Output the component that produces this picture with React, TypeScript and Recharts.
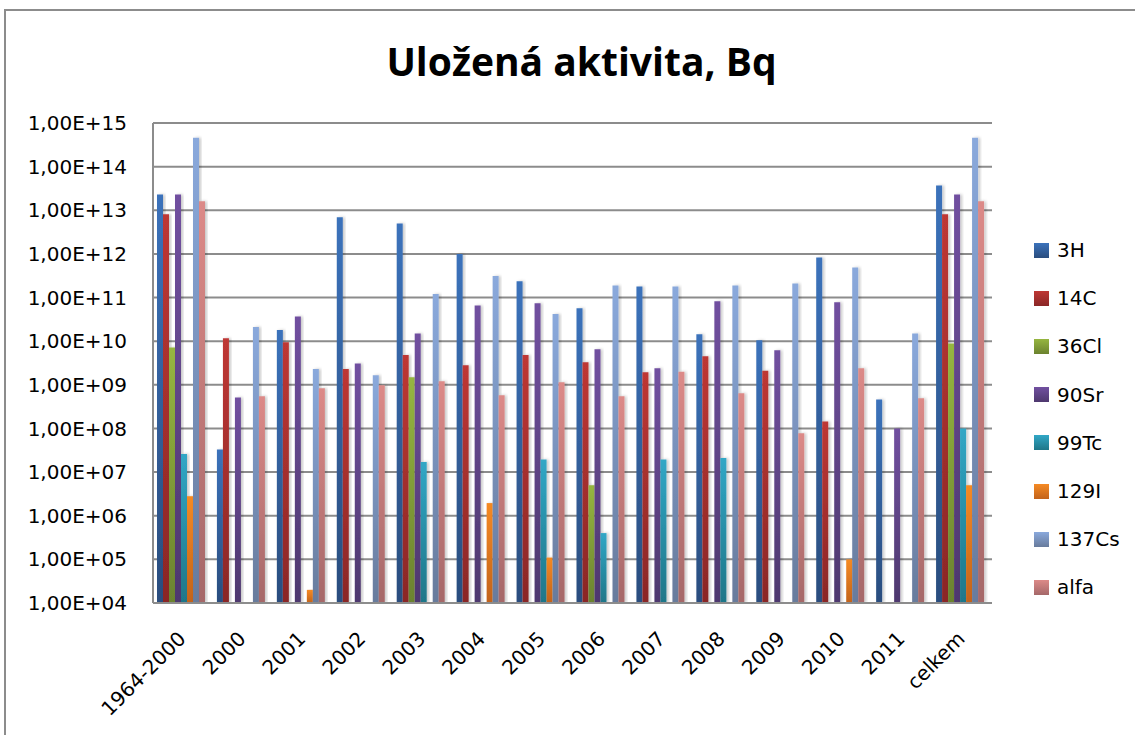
import { BarChart, Bar, XAxis, YAxis, CartesianGrid } from "recharts"

const categories = [
  "1964-2000", "2000", "2001", "2002", "2003", "2004", "2005",
  "2006", "2007", "2008", "2009", "2010", "2011", "celkem",
]

// Bq; null = no bar
const h3 = [2.3e13, 3.3e7, 1.8e10, 6.9e12, 5.0e12, 1.0e12, 2.35e11, 5.7e10, 1.8e11, 1.45e10, 1.05e10, 8.3e11, 4.6e8, 3.7e13]
const c14 = [8.1e12, 1.17e10, 9.5e9, 2.3e9, 4.8e9, 2.8e9, 4.8e9, 3.3e9, 1.95e9, 4.5e9, 2.1e9, 1.45e8, null, 8.1e12]
const cl36 = [7.2e9, null, null, null, 1.5e9, null, null, 5e6, null, null, null, null, null, 8.9e9]
const sr90 = [2.3e13, 5.1e8, 3.7e10, 3.1e9, 1.5e10, 6.6e10, 7.4e10, 6.5e9, 2.4e9, 8.2e10, 6.2e9, 7.8e10, 1.0e8, 2.3e13]
const tc99 = [2.6e7, null, null, null, 1.7e7, null, 1.95e7, 4e5, 1.95e7, 2.1e7, null, null, null, 1.0e8]
const i129 = [2.8e6, null, 2e4, null, 8e3, 1.95e6, 1.1e5, null, null, 8e3, null, 1.0e5, null, 5e6]
const cs137 = [4.6e14, 2.1e10, 2.3e9, 1.66e9, 1.2e11, 3.1e11, 4.2e10, 1.9e11, 1.8e11, 1.9e11, 2.1e11, 4.9e11, 1.5e10, 4.6e14]
const alfa = [1.6e13, 5.5e8, 8.3e8, 9.8e8, 1.2e9, 5.8e8, 1.15e9, 5.5e8, 2.0e9, 6.4e8, 7.8e7, 2.4e9, 4.9e8, 1.6e13]

const yTicks = [1e4, 1e5, 1e6, 1e7, 1e8, 1e9, 1e10, 1e11, 1e12, 1e13, 1e14, 1e15]

const series = [
  { key: "3H", values: h3, top: "#3b72bb", bottom: "#2a4d7e" },
  { key: "14C", values: c14, top: "#be3734", bottom: "#8a2727" },
  { key: "36Cl", values: cl36, top: "#96b640", bottom: "#6b822f" },
  { key: "90Sr", values: sr90, top: "#7150a0", bottom: "#4e386e" },
  { key: "99Tc", values: tc99, top: "#31a7c6", bottom: "#1f7688" },
  { key: "129I", values: i129, top: "#f58a24", bottom: "#c2631b" },
  { key: "137Cs", values: cs137, top: "#8aa9dc", bottom: "#687b9c" },
  { key: "alfa", values: alfa, top: "#dc8a88", bottom: "#a56869" },
]

const chartData = categories.map((name, i) => {
  const row: Record<string, string | number | null> = { name }
  series.forEach((s) => {
    row[s.key] = s.values[i]
  })
  return row
})

const FONT = "'DejaVu Sans', sans-serif"

const formatExp = (v: number) => {
  const e = Math.round(Math.log10(v))
  return `1,00E+${String(e).padStart(2, "0")}`
}

function XTick(props: any) {
  const { x, payload } = props
  const ax = x + 4
  const ay = 640
  return (
    <text
      x={ax}
      y={ay}
      textAnchor="end"
      transform={`rotate(-45, ${ax}, ${ay})`}
      fontFamily={FONT}
      fontSize={20}
      fill="#000"
    >
      {payload.value}
    </text>
  )
}

export default function App() {
  return (
    <div style={{ position: "absolute", left: 0, top: 0, width: 1135, height: 735, background: "#fff", overflow: "hidden" }}>
      <div
        style={{
          position: "absolute",
          left: 4,
          top: 9,
          width: 1200,
          height: 800,
          borderTop: "2px solid #8c8c8c",
          borderLeft: "2px solid #8c8c8c",
        }}
      />
      <div
        style={{
          position: "absolute",
          left: 0,
          width: 1163,
          top: 34,
          textAlign: "center",
          fontFamily: "'Open Sans', sans-serif",
          fontWeight: 700,
          fontSize: 39,
          color: "#000",
          lineHeight: "54px",
        }}
      >
        Uložená aktivita, Bq
      </div>

      <div style={{ position: "absolute", left: 0, top: 0 }}>
        <BarChart
          width={1135}
          height={735}
          data={chartData}
          margin={{ top: 123, right: 143, bottom: 32, left: 8 }}
          barCategoryGap={4}
          barGap={0}
        >
          <defs>
            {series.map((s) => (
              <linearGradient key={s.key} id={`g${s.key}`} x1="0" y1="0" x2="0" y2="1">
                <stop offset="0%" stopColor={s.top} />
                <stop offset="100%" stopColor={s.bottom} />
              </linearGradient>
            ))}
            <filter id="barShadow" x="-50%" y="-5%" width="200%" height="110%">
              <feDropShadow dx="2" dy="0" stdDeviation="1.5" floodColor="#000" floodOpacity="0.22" />
            </filter>
          </defs>
          <CartesianGrid vertical={false} stroke="#8c8c8c" strokeWidth={2} />
          <XAxis
            dataKey="name"
            height={100}
            interval={0}
            tickLine={false}
            axisLine={{ stroke: "#8c8c8c", strokeWidth: 2 }}
            tick={<XTick />}
          />
          <YAxis
            scale="log"
            domain={[1e4, 1e15]}
            ticks={yTicks}
            allowDataOverflow
            width={145}
            tickLine={false}
            tickSize={16}
            tickMargin={10}
            axisLine={{ stroke: "#8c8c8c", strokeWidth: 2 }}
            tickFormatter={formatExp}
            tick={{ fontFamily: FONT, fontSize: 20, fill: "#000" }}
          />
          {series.map((s) => (
            <Bar
              key={s.key}
              dataKey={s.key}
              fill={`url(#g${s.key})`}
              filter="url(#barShadow)"
              isAnimationActive={false}
            />
          ))}
        </BarChart>
      </div>

      {series.map((s, i) => (
        <div
          key={s.key}
          style={{
            position: "absolute",
            left: 1034,
            top: 238 + i * 48.2,
            height: 24,
            display: "flex",
            alignItems: "center",
            fontFamily: FONT,
            fontSize: 20,
            color: "#000",
          }}
        >
          <span
            style={{
              display: "inline-block",
              width: 15,
              height: 15,
              marginRight: 8,
              background: `linear-gradient(${s.top}, ${s.bottom})`,
            }}
          />
          {s.key}
        </div>
      ))}
    </div>
  )
}
